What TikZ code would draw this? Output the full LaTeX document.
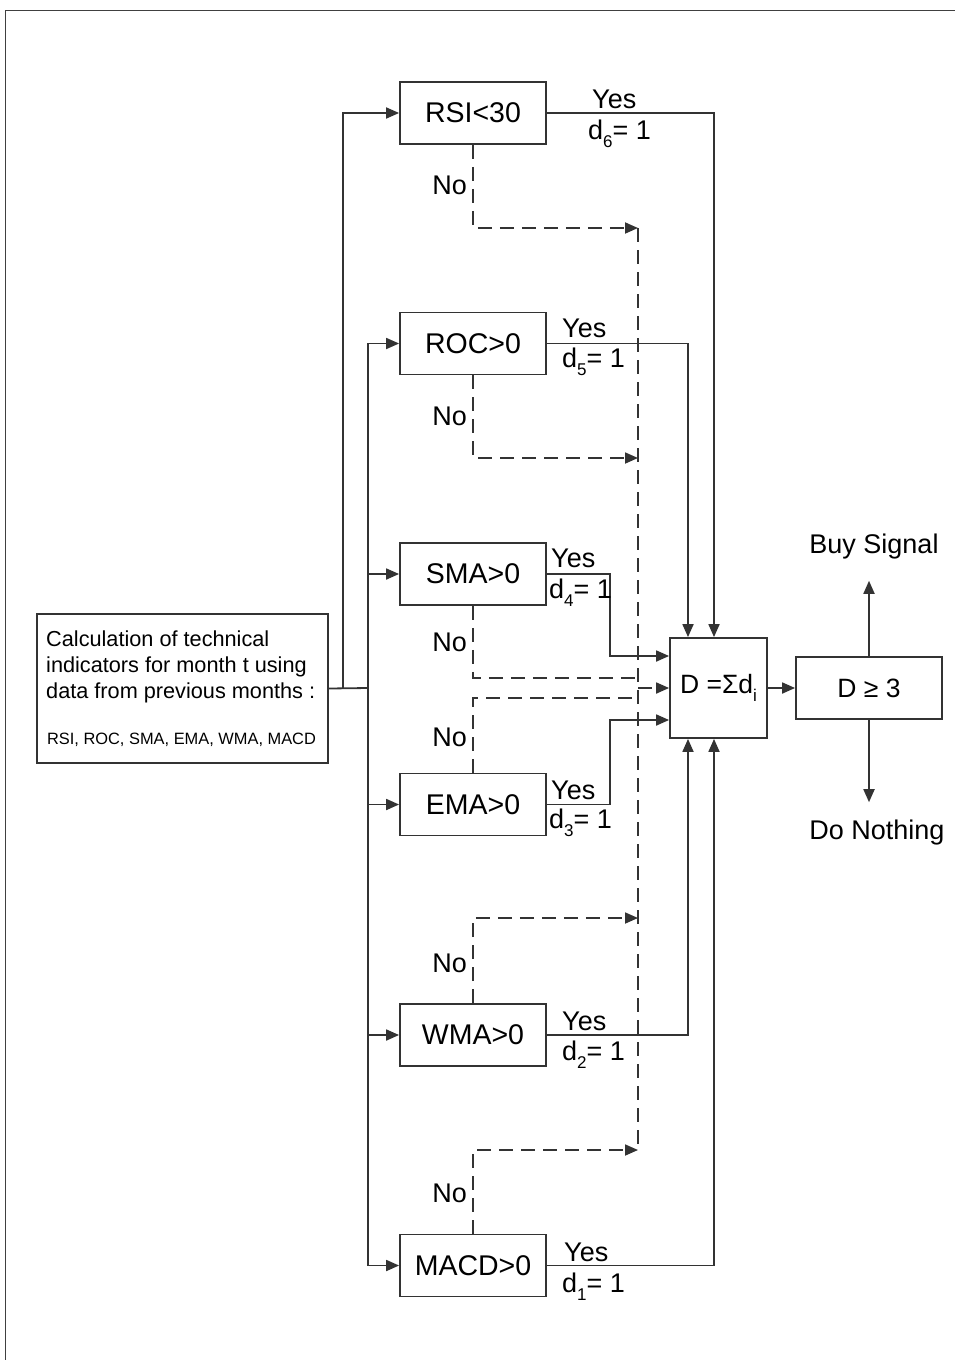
\documentclass[tikz,border=0pt]{standalone}
\usepackage{fontspec}
\setmainfont{Liberation Sans}
\usetikzlibrary{arrows.meta}

\newcommand\lowsub[2]{#1\raisebox{-0.32em}{\fontsize{17}{17}\selectfont #2}}

\tikzset{
  wire/.style={draw=black!80, line width=1.8pt},
  tip/.style={-{Triangle[length=13pt,width=11pt]}},
  noline/.style={wire, dash pattern=on 14pt off 8pt},
  indbox/.style={draw=black!80, line width=1.8pt, minimum width=146pt, minimum height=62pt, inner sep=0pt, font=\fontsize{28.5}{34}\selectfont},
  lab/.style={inner sep=0pt, font=\fontsize{27}{32}\selectfont},
}

\begin{document}
\begin{tikzpicture}[x=1pt,y=-1pt]
\useasboundingbox (0,0) rectangle (955,1360);
% page frame, only top and left edges show
\draw[black!75,line width=1pt] (5,1360) -- (5,10) -- (955,10);
% the input box
\node[draw=black!80,line width=1.8pt,minimum width=291pt,minimum height=149pt] (calc) at (182.5,688.5) {};
\node[anchor=north west,inner sep=0pt,align=left,font=\fontsize{21.7}{26}\selectfont] (calctxt) at (46,631)
  {Calculation of technical\\indicators for month t using\\data from previous months :};
\node[inner sep=0pt,font=\fontsize{16.4}{20}\selectfont] (calclist) at (181.5,740) {RSI, ROC, SMA, EMA, WMA, MACD};
% the six indicator tests
\foreach \nm/\txt/\yy in {rsi/RSI<30/113, roc/ROC>0/343.5, sma/SMA>0/574, ema/EMA>0/804.5, wma/WMA>0/1035, macd/MACD>0/1265.5}
  \node[indbox] (\nm) at (473,\yy) {\txt};
% the sum and the decision
\node[draw=black!80,line width=1.8pt,minimum width=97pt,minimum height=100pt,inner sep=0pt,font=\fontsize{26.5}{30}\selectfont] (dsum) at (718.5,688) {D =Σ\lowsub{d}{i}};
\node[indbox,font=\fontsize{26.5}{30}\selectfont] (dge) at (869,688) {D ≥ 3};
% feeding the tests
\coordinate (fork) at (368,688);
\draw[wire] (calc.east) -- (fork);
\draw[wire,tip] (calc.east) -- ++(14,0) |- (rsi.west);
\foreach \nm in {roc,sma,ema,wma,macd}
  \draw[wire,tip] (fork) |- (\nm.west);
% yes branches into the sum
\draw[wire,tip] (rsi.east) -| ([xshift=-4.5pt]dsum.north);
\draw[wire,tip] (roc.east) -| ([xshift=-30.5pt]dsum.north);
\draw[wire,tip] (sma.east) -- ++(63,0) |- ([yshift=32pt]dsum.west);
\draw[wire,tip] (ema.east) -- ++(63,0) |- ([yshift=-32pt]dsum.west);
\draw[wire,tip] (wma.east) -| ([xshift=-30.5pt]dsum.south);
\draw[wire,tip] (macd.east) -| ([xshift=-4.5pt]dsum.south);
% no branches, dashed bus
\coordinate (n6) at (638,228);
\coordinate (n5) at (638,458);
\coordinate (n4) at (638,678);
\coordinate (nmid) at (638,688);
\coordinate (n3) at (638,698);
\coordinate (n2) at (638,918);
\coordinate (n1) at (638,1150);
\draw[noline] (n6) -- (n1);
\draw[noline,tip] (rsi.south) |- (n6);
\draw[noline,tip] (roc.south) |- (n5);
\draw[noline] (sma.south) |- (n4);
\draw[noline] (ema.north) |- (n3);
\draw[noline,tip] (wma.north) |- (n2);
\draw[noline,tip] (macd.north) |- (n1);
\draw[noline,tip] (nmid) -- (dsum.west);
\draw[noline,tip] (dsum.east) -- (dge.west);
% outcome
\node[lab] (buy) at (874,547) {Buy Signal};
\node[lab] (nothing) at (877,833) {Do Nothing};
\draw[wire,tip,shorten >=21pt] (dge.north) -- (dge.north |- buy.south);
\draw[wire,tip,shorten >=18pt] (dge.south) -- (dge.south |- nothing.north);
% labels on the branches
\node[lab,anchor=west] (y6) at (592,99) {Yes};
\node[lab,anchor=base west] (d6) at (588,139) {\lowsub{d}{6}= 1};
\node[lab,anchor=west] (y5) at (562,328) {Yes};
\node[lab,anchor=base west] (d5) at (562,367) {\lowsub{d}{5}= 1};
\node[lab,anchor=west] (y4) at (551,558) {Yes};
\node[lab,anchor=base west] (d4) at (549,598) {\lowsub{d}{4}= 1};
\node[lab,anchor=west] (y3) at (551,790) {Yes};
\node[lab,anchor=base west] (d3) at (549,828) {\lowsub{d}{3}= 1};
\node[lab,anchor=west] (y2) at (562,1021) {Yes};
\node[lab,anchor=base west] (d2) at (562,1060) {\lowsub{d}{2}= 1};
\node[lab,anchor=west] (y1) at (564,1252) {Yes};
\node[lab,anchor=base west] (d1) at (562,1292) {\lowsub{d}{1}= 1};
\foreach \yy in {185,416,642,737,963,1193}
  \node[lab,anchor=east] at (467,\yy) {No};
\end{tikzpicture}
\end{document}
